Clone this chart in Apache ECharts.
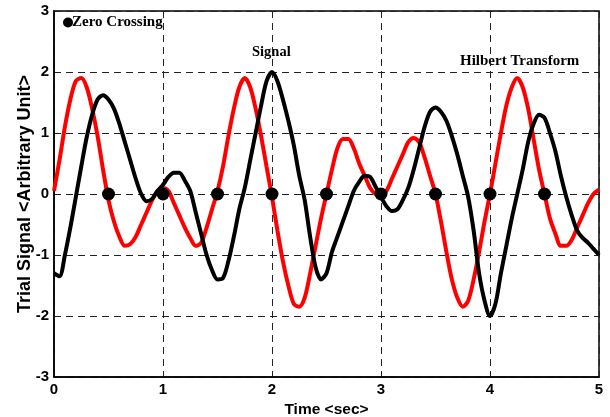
<!DOCTYPE html>
<html>
<head>
<meta charset="utf-8">
<script src="https://cdn.jsdelivr.net/npm/echarts@6/dist/echarts.min.js"></script>
<style>html,body{margin:0;padding:0;background:#fff}#c{width:610px;height:417px}</style>
</head>
<body>
<div id="c"></div>
<script>
// time axis samples (sec), step 0.05
const timeStep = 0.05;
const xTicks = ['0','1','2','3','4','5'];
const yTicks = ['-3','-2','-1','0','1','2','3'];
// Hilbert transform (red)
const hilbertValues = [
  0.05, 0.55, 1.1, 1.55, 1.85, 1.9, 1.75, 1.4, 0.95, 0.4,
  -0.1, -0.45, -0.7, -0.85, -0.82, -0.7, -0.5, -0.3, -0.1, 0.05,
  0.1, 0.05, -0.15, -0.35, -0.55, -0.72, -0.85, -0.8, -0.55, -0.25,
  0.05, 0.45, 0.95, 1.4, 1.75, 1.9, 1.75, 1.4, 0.95, 0.45,
  -0.05, -0.6, -1.1, -1.5, -1.8, -1.85, -1.7, -1.3, -0.85, -0.4,
  0.0, 0.4, 0.75, 0.9, 0.9, 0.75, 0.5, 0.3, 0.1, 0.0,
  -0.05, 0.05, 0.25, 0.45, 0.65, 0.85, 0.92, 0.85, 0.6, 0.3,
  0.0, -0.45, -0.95, -1.4, -1.7, -1.85, -1.75, -1.4, -0.95, -0.45,
  0.0, 0.5, 1.0, 1.45, 1.75, 1.9, 1.75, 1.4, 0.9, 0.4,
  0.0, -0.4, -0.65, -0.85, -0.85, -0.75, -0.55, -0.35, -0.15, 0.0,
  0.07
];
// Signal (black)
const signalValues = [
  -1.3, -1.35, -1.0, -0.55, -0.05, 0.45, 0.93, 1.3, 1.55, 1.62,
  1.55, 1.4, 1.15, 0.85, 0.55, 0.25, 0.0, -0.12, -0.08, 0.05,
  0.15, 0.28, 0.35, 0.35, 0.22, 0.05, -0.3, -0.65, -1.0, -1.25,
  -1.4, -1.38, -1.1, -0.7, -0.25, 0.1, 0.55, 1.0, 1.45, 1.85,
  2.0, 1.85, 1.55, 1.2, 0.8, 0.3, -0.1, -0.7, -1.2, -1.4,
  -1.3, -0.95, -0.7, -0.45, -0.2, 0.05, 0.2, 0.3, 0.28, 0.12,
  -0.05, -0.2, -0.28, -0.25, -0.1, 0.1, 0.4, 0.75, 1.1, 1.35,
  1.42, 1.35, 1.2, 0.95, 0.65, 0.3, -0.05, -0.6, -1.3, -1.75,
  -2.0, -1.8, -1.3, -0.85, -0.4, 0.0, 0.4, 0.85, 1.15, 1.3,
  1.25, 1.0, 0.7, 0.3, -0.05, -0.35, -0.6, -0.72, -0.8, -0.9,
  -1.0
];
// zero crossing points
const zeroCrossX = [0.5, 1.0, 1.5, 2.0, 2.5, 3.0, 3.5, 4.0, 4.5];
const zeroCrossY = [0, 0, 0, 0, 0, 0, 0, 0, 0];

const toPairs = vals => vals.map((v, i) => [+(i * timeStep).toFixed(2), v]);

const chart = echarts.init(document.getElementById('c'), null, {renderer: 'canvas'});
const sans = 'Liberation Sans, Arial, sans-serif';
const serif = 'Liberation Serif, Times New Roman, serif';
const gridLine = {show: true, lineStyle: {color: '#222', type: [7, 5], width: 1}};

chart.setOption({
  animation: false,
  backgroundColor: '#fff',
  grid: {left: 54, right: 11, top: 11, bottom: 40, outerBoundsMode: 'none', containLabel: false,
    show: true, borderColor: '#000', borderWidth: 1.5, backgroundColor: 'transparent'},
  legend: {
    data: ['Zero Crossing'], left: 58, top: 10, icon: 'circle', itemWidth: 10, itemHeight: 10,
    textStyle: {fontFamily: serif, fontWeight: 'bold', fontSize: 15, color: '#000', padding: [0, 0, 0, -6]}
  },
  xAxis: {
    type: 'value', min: 0, max: 5, interval: 1,
    name: 'Time <sec>', nameLocation: 'middle', nameGap: 25, nameMoveOverlap: false,
    nameTextStyle: {fontFamily: sans, fontWeight: 'bold', fontSize: 15.5, color: '#000'},
    axisLine: {show: true, onZero: false, lineStyle: {color: '#000', width: 1.5}},
    axisTick: {show: false},
    axisLabel: {fontFamily: sans, fontWeight: 'bold', fontSize: 15, color: '#000', margin: 5,
      formatter: v => xTicks[Math.round(v)]},
    splitLine: gridLine
  },
  yAxis: {
    type: 'value', min: -3, max: 3, interval: 1,
    name: 'Trial Signal <Arbitrary Unit>', nameLocation: 'middle', nameGap: 19.5, nameMoveOverlap: false,
    nameTextStyle: {fontFamily: sans, fontWeight: 'bold', fontSize: 18, color: '#000'},
    axisLine: {show: true, onZero: false, lineStyle: {color: '#000', width: 1.5}},
    axisTick: {show: false},
    axisLabel: {fontFamily: sans, fontWeight: 'bold', fontSize: 15, color: '#000', margin: 5,
      formatter: v => yTicks[Math.round(v) + 3]},
    splitLine: gridLine
  },
  series: [
    {name: 'Hilbert Transform', type: 'line', data: toPairs(hilbertValues), showSymbol: false, smooth: 0.3,
      lineStyle: {color: '#ff0000', width: 4}, itemStyle: {color: '#ff0000'}, z: 2},
    {name: 'Signal', type: 'line', data: toPairs(signalValues), showSymbol: false, smooth: 0.3,
      lineStyle: {color: '#000', width: 4}, itemStyle: {color: '#000'}, z: 3},
    {name: 'Zero Crossing', type: 'scatter', data: zeroCrossX.map((x, i) => [x, zeroCrossY[i]]),
      symbol: 'circle', symbolSize: 13, itemStyle: {color: '#000', opacity: 1}, z: 5}
  ],
  graphic: [
    {type: 'text', left: 252, top: 45, style: {text: 'Signal', fontFamily: serif, fontWeight: 'bold', fontSize: 14.5, fill: '#000'}},
    {type: 'text', left: 460, top: 54, style: {text: 'Hilbert Transform', fontFamily: serif, fontWeight: 'bold', fontSize: 15, fill: '#000'}}
  ]
});
</script>
</body>
</html>
